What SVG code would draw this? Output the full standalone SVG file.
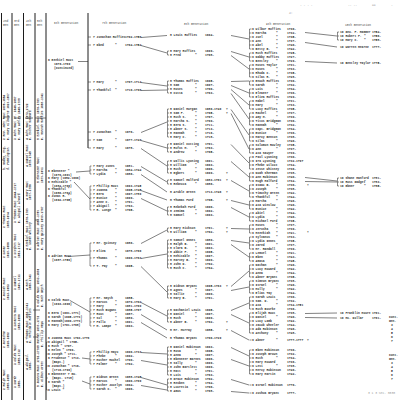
<svg xmlns="http://www.w3.org/2000/svg" width="400" height="400" viewBox="0 0 400 400">
<style>
text{font-family:"Liberation Mono","DejaVu Sans Mono",monospace;font-size:3px;font-weight:bold;fill:#303030}
.v{font-size:2.9px}
.hd{font-size:2.9px;font-weight:normal;fill:#444}
.lt{fill:#999;font-weight:normal}
.r{stroke:#1c1c1c;stroke-width:1;fill:none}
.c{stroke:#2e2e2e;stroke-width:0.6;fill:none}
.b{stroke:#2e2e2e;stroke-width:0.55;fill:none}
</style>
<rect width="400" height="400" fill="#fff"/>

<g id="rules">
<path class="r" d="M1.5 13V400M12 13V400M23.5 13V400M35 13V400M46 13V400M88 13V148"/>
<path class="c" d="M3 117h7M14 118h7M25 118h8M35 118h11M35 220h4M33 310h7M33 337h5"/>
</g>

<g id="headers">
<text class="hd" x="3" y="22">2nd</text><text class="hd" x="3" y="26">Gen</text>
<text class="hd" x="14" y="22">3rd</text><text class="hd" x="14" y="26">Gen</text>
<text class="hd" x="26" y="22">4th</text><text class="hd" x="26" y="26">Gen</text>
<text class="hd" x="37" y="22">5th</text><text class="hd" x="37" y="26">Gen</text>
<text class="hd" x="54" y="24">6th Generation</text>
<text class="hd" x="102" y="24">7th Generation</text>
<text class="hd" x="184" y="25">8th Generation</text>
<text class="hd" x="266" y="25">9th Generation</text>
<text class="hd" x="345" y="26">10th Generation</text>
</g>

<g id="gen2">
<text class="v" transform="translate(5,140) rotate(-90)">2 Rev. John Root 1608-1684<tspan x="0" dy="3.5">m. Mary Kilbourne 1619-1697</tspan></text>
<text class="v" transform="translate(5,170) rotate(-90)">b. Badby, Eng.<tspan x="0" dy="3.5">d. Farmington</tspan></text>
<text class="v" transform="translate(5,228) rotate(-90)">2 Thomas Root<tspan x="0" dy="3.5">1605-1694</tspan></text>
<text class="v" transform="translate(5,258) rotate(-90)">2 Susan<tspan x="0" dy="3.5">1610-1686</tspan></text>
<text class="v" transform="translate(5,300) rotate(-90)">2 Josiah Root<tspan x="0" dy="3.5">1613-1683</tspan></text>
<text class="v" transform="translate(5,348) rotate(-90)">2 Jonathan<tspan x="0" dy="3.5">1616-1682</tspan></text>
<text class="v" transform="translate(5,390) rotate(-90)">2 Ralph Root<tspan x="0" dy="3.5">1585-1655</tspan></text>
</g>
<g id="gen3">
<text class="v" transform="translate(16,140) rotate(-90)">3 John Root Jr. 1646-1687<tspan x="0" dy="3.5">m. Mary Ashley 1648-1705</tspan></text>
<text class="v" transform="translate(16,223) rotate(-90)">3 Thomas Root 1644-1717<tspan x="0" dy="3.5">m. Abigail Alvord</tspan></text>
<text class="v" transform="translate(16,258) rotate(-90)">3 Stephen Root<tspan x="0" dy="3.5">1651-1717</tspan></text>
<text class="v" transform="translate(16,290) rotate(-90)">3 Samuel<tspan x="0" dy="3.5">1649-1711</tspan></text>
<text class="v" transform="translate(16,330) rotate(-90)">3 Susanna Root<tspan x="0" dy="3.5">1653-1686</tspan></text>
<text class="v" transform="translate(16,365) rotate(-90)">3 Caleb Root<tspan x="0" dy="3.5">1655-1712</tspan></text>
<text class="v" transform="translate(16,388) rotate(-90)">3 Sarah<tspan x="0" dy="3.5">1658-</tspan></text>
</g>
<g id="gen4">
<text class="v" transform="translate(27.5,140) rotate(-90)">4 John Root 1673-1722<tspan x="0" dy="3.5">m. Esther Hubbard</tspan></text>
<text class="v" transform="translate(27.5,167) rotate(-90)">4 Samuel Root<tspan x="0" dy="3.5">1675-1745</tspan></text>
<text class="v" transform="translate(27.5,200) rotate(-90)">4 Mary Root<tspan x="0" dy="3.5">1677-1756</tspan></text>
<text class="v" transform="translate(27.5,250) rotate(-90)">4 Ezekiel Root 1676-1769<tspan x="0" dy="3.5">m. Sarah Whitney</tspan></text>
<text class="v" transform="translate(27.5,290) rotate(-90)">4 Ruth<tspan x="0" dy="3.5">1680-1741</tspan></text>
<text class="v" transform="translate(27.5,343) rotate(-90)">4 Thomas Root 1683-1741<tspan x="0" dy="3.5">m. Mehitable Ruffies</tspan></text>
<text class="v" transform="translate(27.5,370) rotate(-90)">4 Abigail<tspan x="0" dy="3.5">1686-</tspan></text>
</g>
<g id="gen5">
<text class="v" transform="translate(39,140) rotate(-90)">5 Ezekiel Root 1676-1769<tspan x="0" dy="3.5">m. Hannah Ruffies 1680-1741</tspan></text>
<text class="v" transform="translate(39,183) rotate(-90)">5 Ebenezer Root<tspan x="0" dy="3.5">1679-1691</tspan></text>
<text class="v" transform="translate(39,250) rotate(-90)">5 Adrian Root 1687-1759<tspan x="0" dy="3.5">m. Mary Quinsey 1690-1767</tspan></text>
<text class="v" transform="translate(39,307) rotate(-90)">5 Caleb Root 1693-1696<tspan x="0" dy="3.5">m. Ruth Smyth</tspan></text>
<text class="v" transform="translate(39,347) rotate(-90)">5 Hannah 1699-1773<tspan x="0" dy="3.5">m. Phillip Mayo</tspan></text>
<text class="v" transform="translate(39,387) rotate(-90)">5 Joanna Root 1703-1776<tspan x="0" dy="3.5">m. Gideon Green</tspan></text>
</g>

<g id="n6-ezekiel">
<text x="48" y="61">6 Ezekiel Root</text><text x="54" y="65">1676-1769</text><text x="54" y="69">(Continued)</text>
</g>
<g id="n6-ebenezer">
<text x="48" y="172">6 Ebenezer  "</text><text x="52" y="175.5">(1679-1691)</text>
<text x="48" y="179">6 Mary (1682-1696)</text>
<text x="48" y="183">6 Mehitable  "</text><text x="52" y="186.5">(1684-1760)</text>
<text x="48" y="190">6 Thankful  "</text><text x="52" y="193.5">(1686-1764)</text>
<text x="48" y="197">6 Jonas R.  "</text><text x="52" y="200.5">(1692-1765)</text>
</g>
<g id="n6-adrian">
<text x="48" y="257">6 Adrian Root</text><text x="52" y="261">(1687-1759)</text>
</g>
<g id="n6-caleb">
<text x="48" y="301">6 Caleb Root</text><text x="52" y="305">(1693-1696)</text>
<text x="48" y="314">6 Ezra  (1691-1771)</text>
<text x="48" y="318">6 Sarah (1695-1773)</text>
<text x="48" y="322">6 Hannah(1699-1773)</text>
<text x="48" y="326">6 Mary  (1701-1768)</text>
</g>
<g id="n6-joanna">
<text x="48" y="339">6 Joanna Root  1703-1776</text>
<text x="48" y="343">6 Abigail  "  1705-</text>
<text x="48" y="347">6 Ruth     "  1707-</text>
<text x="48" y="351">6 Helen    "  1709-</text>
<text x="48" y="355">6 Joseph   "  1711-</text>
<text x="48" y="359">6 Prudence "  1713-</text>
<text x="52" y="363">(Bapt.)</text>
<text x="48" y="367">6 Jonathan "  1716-</text>
<text x="52" y="371">(1716-1799)</text>
<text x="48" y="375">6 Ebenezer  7 mo.</text>
<text x="52" y="379">(Bapt. 1718)</text>
<text x="48" y="383">6 Sarah    "</text>
<text x="52" y="387">(Bapt.)</text>
<text x="48" y="391">6 Lewis    "</text>
<path class="b" d="M46.5 342V390M46.5 342h1.3M46.5 354h1.3M46.5 366h1.3M46.5 378h1.3M46.5 390h1.3"/>
</g>

<g id="n7-a">
<text x="93" y="38">7 Jonathan Ruffies<tspan x="125">1702-1756</tspan></text>
<text x="93" y="46">7 Obed<tspan x="115">"</tspan><tspan x="125">1704-1754</tspan></text>
</g>
<g id="n7-b">
<text x="93" y="83">7 Mary<tspan x="115">"</tspan><tspan x="125">1707-1714</tspan></text>
<text x="93" y="91">7 Thankful<tspan x="115">"</tspan><tspan x="125">1710-1796</tspan></text>
</g>
<g id="n7-c">
<text x="93" y="133">7 Jonathan<tspan x="115">"</tspan><tspan x="125">1676-</tspan></text>
<text x="93" y="141">7 Sam<tspan x="115">"</tspan><tspan x="125">1677-1749</tspan></text>
<text x="93" y="149">7 Mary<tspan x="115">"</tspan><tspan x="125">1678-</tspan></text>
</g>
<g id="n7-d">
<text x="93" y="167">7 Mary Jones<tspan x="125">1681-</tspan></text>
<text x="93" y="171">7 Martha<tspan x="115">"</tspan><tspan x="125">1684-1744</tspan></text>
<text x="93" y="175">7 Lydia<tspan x="115">"</tspan><tspan x="125">1686-</tspan></text>
</g>
<g id="n7-e">
<text x="93" y="187">7 Phillip Root<tspan x="125">1693-1745</tspan></text>
<text x="93" y="191">7 Joanna<tspan x="115">"</tspan><tspan x="125">1695-1745</tspan></text>
<text x="93" y="195">7 Ezra<tspan x="115">"</tspan><tspan x="125">1697-1789</tspan></text>
<text x="93" y="199">7 Eunice<tspan x="115">"</tspan><tspan x="125">1699-</tspan></text>
<text x="93" y="203">7 Anne C.<tspan x="115">"</tspan><tspan x="125">1701-</tspan></text>
<text x="93" y="207">7 Abigail<tspan x="115">"</tspan><tspan x="125">1703-</tspan></text>
<text x="93" y="211">7 R. Lunge<tspan x="115">"</tspan><tspan x="125">1705-</tspan></text>
</g>
<g id="n7-f">
<text x="93" y="244">7 Mr. Quinsey<tspan x="125">1686-</tspan></text>
<text x="93" y="252">7 Eliza<tspan x="115">"</tspan><tspan x="125">1678-1760</tspan></text>
<text x="93" y="259">7 Thomas<tspan x="115">"</tspan><tspan x="125">1690-1763</tspan></text>
<text x="93" y="267">7 T. Fay<tspan x="115">"</tspan><tspan x="125">1695-</tspan></text>
</g>
<g id="n7-g">
<text x="93" y="299">7 Mr. Smyth<tspan x="125">1685-</tspan></text>
<text x="93" y="303">7 Marcus<tspan x="115">"</tspan><tspan x="125">1679-1702</tspan></text>
<text x="93" y="307">7 Mary<tspan x="115">"</tspan><tspan x="125">1681-1709</tspan></text>
<text x="93" y="311">7 Ruth Bugant<tspan x="125">1685-1707</tspan></text>
<text x="93" y="315">7 Root<tspan x="115">"</tspan><tspan x="125">1687-</tspan></text>
<text x="93" y="319">7 Sol<tspan x="115">"</tspan><tspan x="125">1689-</tspan></text>
<text x="93" y="323">7 Fallo<tspan x="115">"</tspan><tspan x="125">1691-</tspan></text>
<text x="93" y="327">7 M. Lampe<tspan x="115">"</tspan><tspan x="125">1693-</tspan></text>
</g>
<g id="n7-h">
<text x="93" y="353">7 Phillip Mayo<tspan x="125">1690-1733</tspan></text>
<text x="93" y="357">7 Phebe<tspan x="115">"</tspan><tspan x="125">1692-</tspan></text>
<text x="93" y="361">7 Mother Mochel<tspan x="125">1700-</tspan></text>
<text x="93" y="365">7 Palmer<tspan x="115">"</tspan><tspan x="125">1702-</tspan></text>
</g>
<g id="n7-i">
<text x="93" y="378">7 Gideon Green<tspan x="125">1688-1745</tspan></text>
<text x="93" y="382">7 Marcus<tspan x="115">"</tspan><tspan x="125">1690-1709</tspan></text>
<text x="93" y="386">7 Mother Jocelyn<tspan x="125">1694-</tspan></text>
<text x="93" y="390">7 Sarah C.<tspan x="115">"</tspan><tspan x="125">1696-</tspan></text>
</g>

<g id="n8-a"><text x="170" y="36">8 Lewis Ruffies<tspan x="205">1694-</tspan></text></g>
<g id="n8-b">
<text x="170" y="52">8 Mary Ruffies<tspan x="205">1699-</tspan></text>
<text x="170" y="56">8 Fred<tspan x="195">"</tspan><tspan x="205">1708-</tspan></text>
</g>
<g id="n8-c">
<text x="170" y="82">8 Thomas Ruffies<tspan x="205">1695-</tspan></text>
<text x="170" y="86">8 Sam<tspan x="195">"</tspan><tspan x="205">1697-</tspan></text>
<text x="170" y="90">8 Moses<tspan x="195">"</tspan><tspan x="205">1700-</tspan></text>
<text x="170" y="94">8 Cotta<tspan x="195">"</tspan><tspan x="205">1703-</tspan></text>
</g>
<g id="n8-d">
<text x="170" y="110">8 Daniel Morgan<tspan x="205">1680-1740</tspan><tspan x="226">?</tspan></text>
<text x="170" y="114">8 Sam F.<tspan x="195">"</tspan><tspan x="205">1705-</tspan><tspan x="226">?</tspan></text>
<text x="170" y="118">8 Ruth S.<tspan x="195">"</tspan><tspan x="205">1707-</tspan></text>
<text x="170" y="122">8 Martha S.<tspan x="195">"</tspan><tspan x="205">1709-</tspan></text>
<text x="170" y="126">8 Ezra S.<tspan x="195">"</tspan><tspan x="205">1711-</tspan></text>
<text x="170" y="130">8 Abner S.<tspan x="195">"</tspan><tspan x="205">1713-</tspan></text>
<text x="170" y="134">8 Hannah<tspan x="195">"</tspan><tspan x="205">1716-</tspan></text>
<text x="170" y="138">8 Mary C.<tspan x="195">"</tspan><tspan x="205">1718-</tspan></text>
</g>
<g id="n8-e">
<text x="170" y="145">8 Daniel Cutting<tspan x="205">1701-</tspan></text>
<text x="170" y="149">8 Rufus M.<tspan x="195">"</tspan><tspan x="205">1703-</tspan></text>
<text x="170" y="153">8 Andrew<tspan x="195">"</tspan><tspan x="205">1705-</tspan></text>
</g>
<g id="n8-f">
<text x="170" y="162">8 Wallis Lyoning<tspan x="205">1691-</tspan></text>
<text x="170" y="166">8 William<tspan x="195">"</tspan><tspan x="205">1693-</tspan></text>
<text x="170" y="170">8 Ruth<tspan x="195">"</tspan><tspan x="205">1696-</tspan></text>
<text x="170" y="174">8 Egbert<tspan x="195">"</tspan><tspan x="205">1699-</tspan><tspan x="226">?</tspan></text>
</g>
<g id="n8-g">
<text x="170" y="181">8 Samuel Halford<tspan x="205">1683-1761</tspan><tspan x="226">?</tspan></text>
<text x="170" y="185">8 Rebecca<tspan x="195">"</tspan><tspan x="205">1686-</tspan></text>
</g>
<g id="n8-h"><text x="170" y="193">8 Aroble Green<tspan x="205">1713-1746</tspan><tspan x="226">?</tspan></text></g>
<g id="n8-i"><text x="170" y="201">8 Thomas Ford<tspan x="205">1705-</tspan><tspan x="226">?</tspan></text></g>
<g id="n8-j">
<text x="170" y="208">8 Rebekah Ford<tspan x="205">1690-</tspan></text>
<text x="170" y="212">8 Jemima<tspan x="195">"</tspan><tspan x="205">1692-</tspan></text>
<text x="170" y="216">8 Samuel<tspan x="195">"</tspan><tspan x="205">1693-</tspan></text>
</g>
<g id="n8-k">
<text x="170" y="229">8 Mary Hickson<tspan x="205">1701-</tspan><tspan x="226">?</tspan></text>
<text x="170" y="233">8 William<tspan x="195">"</tspan><tspan x="205">1702-</tspan><tspan x="226">?</tspan></text>
</g>
<g id="n8-l">
<text x="170" y="241">8 Samuel Innes<tspan x="205">1689-</tspan></text>
<text x="170" y="245">8 Ralph B.<tspan x="195">"</tspan><tspan x="205">1691-</tspan></text>
<text x="170" y="249">8 Clara B.<tspan x="195">"</tspan><tspan x="205">1693-</tspan></text>
<text x="170" y="253">8 Abbie F.<tspan x="195">"</tspan><tspan x="205">1695-</tspan></text>
<text x="170" y="257">8 Mehitable<tspan x="195">"</tspan><tspan x="205">1697-</tspan></text>
<text x="170" y="261">8 Harvey B.<tspan x="195">"</tspan><tspan x="205">1699-</tspan></text>
<text x="170" y="265">8 John D.<tspan x="195">"</tspan><tspan x="205">1702-</tspan></text>
<text x="170" y="269">8 Ruth C.<tspan x="195">"</tspan><tspan x="205">1704-</tspan></text>
</g>
<g id="n8-m">
<text x="170" y="287">8 Gideon Bryant<tspan x="205">1695-1763</tspan><tspan x="226">?</tspan></text>
<text x="170" y="291">8 Agnes<tspan x="195">"</tspan><tspan x="205">1697-</tspan></text>
<text x="170" y="295">8 Sallie<tspan x="195">"</tspan><tspan x="205">1699-</tspan></text>
<text x="170" y="299">8 Mary B.<tspan x="195">"</tspan><tspan x="205">1701-</tspan></text>
</g>
<g id="n8-n">
<text x="170" y="311">8 Nathaniel Lewis<tspan x="205">1695-</tspan></text>
<text x="170" y="315">8 Daniel<tspan x="195">"</tspan><tspan x="205">1697-</tspan></text>
<text x="170" y="319">8 Ruth<tspan x="195">"</tspan><tspan x="205">1699-</tspan></text>
<text x="170" y="323">8 Abner B.<tspan x="195">"</tspan><tspan x="205">1702-</tspan><tspan x="226">?</tspan></text>
</g>
<g id="n8-o"><text x="170" y="331">8 Mr. Murray<tspan x="205">1685-</tspan><tspan x="226">?</tspan></text></g>
<g id="n8-p"><text x="170" y="339">8 Thomas Bryant<tspan x="205">1700-1729</tspan></text></g>
<g id="n8-q">
<text x="170" y="348">8 Daniel Robinson<tspan x="205">1693-</tspan></text>
<text x="170" y="352">8 Rosa<tspan x="195">"</tspan><tspan x="205">1695-</tspan></text>
<text x="170" y="356">8 Anna<tspan x="195">"</tspan><tspan x="205">1697-</tspan></text>
<text x="170" y="360">8 Ebenezer Barnes<tspan x="205">1696-</tspan></text>
<text x="170" y="364">8 Sally<tspan x="195">"</tspan><tspan x="205">1699-</tspan></text>
<text x="170" y="368">8 John Bartlett<tspan x="205">1699-</tspan></text>
<text x="170" y="372">8 Matt<tspan x="195">"</tspan><tspan x="205">1701-</tspan></text>
<text x="170" y="376">8 Lois<tspan x="195">"</tspan><tspan x="205">1703-</tspan></text>
</g>
<g id="n8-r">
<text x="170" y="380">8 Grace Robinson<tspan x="205">1702-</tspan></text>
<text x="170" y="384">8 Reuben<tspan x="195">"</tspan><tspan x="205">1704-</tspan></text>
<text x="170" y="388">8 Lucretia<tspan x="195">"</tspan><tspan x="205">1706-</tspan></text>
<text x="170" y="392">8 Amos<tspan x="195">"</tspan><tspan x="205">1708-</tspan></text>
</g>

<g id="n9-list">
<text x="252" y="30">9 Wilbur Ruffies<tspan x="287">1730-</tspan></text>
<text x="252" y="34">9 Martha<tspan x="276">"</tspan><tspan x="287">1732-</tspan></text>
<text x="252" y="38">9 Joel<tspan x="276">"</tspan><tspan x="287">1735-</tspan></text>
<text x="252" y="42">9 Ann<tspan x="276">"</tspan><tspan x="287">1737-</tspan></text>
<text x="252" y="46">9 Abel<tspan x="276">"</tspan><tspan x="287">1740-</tspan></text>
<text x="252" y="50">9 Betty B.<tspan x="276">"</tspan><tspan x="287">1742-</tspan></text>
<text x="252" y="54">9 Ruth Ruffies<tspan x="287">1725-</tspan></text>
<text x="252" y="58">9 Nabby Ruffies<tspan x="287">1727-</tspan></text>
<text x="252" y="62">9 Bentley<tspan x="276">"</tspan><tspan x="287">1729-</tspan></text>
<text x="252" y="66">9 Moses Taylor<tspan x="287">1731-</tspan></text>
<text x="252" y="70">9 Moses<tspan x="276">"</tspan><tspan x="287">1733-</tspan></text>
<text x="252" y="74">9 Rhoda C.<tspan x="276">"</tspan><tspan x="287">1735-</tspan></text>
<text x="252" y="78">9 Silas R.<tspan x="276">"</tspan><tspan x="287">1728-</tspan></text>
<text x="252" y="82">9 Enoch Ruffies<tspan x="287">1730-</tspan></text>
<text x="252" y="86">9 Sarah<tspan x="276">"</tspan><tspan x="287">1732-</tspan></text>
<text x="252" y="90">9 Lois<tspan x="276">"</tspan><tspan x="287">1734-</tspan></text>
<text x="252" y="94">9 Eleazer<tspan x="276">"</tspan><tspan x="287">1736-</tspan></text>
<text x="252" y="98">9 Eliza Ruffies<tspan x="287">1729-</tspan></text>
<text x="252" y="102">9 Mabel<tspan x="276">"</tspan><tspan x="287">1731-</tspan></text>
<text x="252" y="106">9 Mary<tspan x="276">"</tspan><tspan x="287">1733-</tspan></text>
<text x="252" y="110">9 Lucy Ruffies<tspan x="287">1735-</tspan></text>
<text x="252" y="114">9 Rachel<tspan x="276">"</tspan><tspan x="287">1737-</tspan></text>
<text x="252" y="118">9 Amy M.<tspan x="276">"</tspan><tspan x="287">1739-</tspan></text>
<text x="252" y="122">9 Titus Bridgman<tspan x="287">1730-</tspan></text>
<text x="252" y="126">9 Hannah<tspan x="276">"</tspan><tspan x="287">1732-</tspan></text>
<text x="252" y="130">9 Capt. Bridgman<tspan x="287">1734-</tspan></text>
<text x="252" y="134">9 Eunice<tspan x="276">"</tspan><tspan x="287">1736-</tspan></text>
<text x="252" y="138">9 Marcy Benton<tspan x="287">1738-</tspan></text>
<text x="252" y="142">9 Silas<tspan x="276">"</tspan><tspan x="287">1740-</tspan></text>
<text x="252" y="146">9 Solomon Rowley<tspan x="287">1735-</tspan></text>
<text x="252" y="150">9 Ann<tspan x="276">"</tspan><tspan x="287">1737-</tspan></text>
<text x="252" y="154">9 Asa Sawyer<tspan x="287">1739-</tspan></text>
<text x="252" y="158">9 Paul Lyoning<tspan x="287">1730-</tspan></text>
<text x="252" y="162">9 Ira Lyoning<tspan x="287">1732-1797</tspan></text>
<text x="252" y="166">9 Phebe Wilcox<tspan x="287">1734-</tspan></text>
<text x="252" y="170">9 Jesse Whitney<tspan x="287">1736-</tspan></text>
<text x="252" y="174">9 Noah Sherman<tspan x="287">1738-</tspan></text>
<text x="252" y="178">9 Ann Robinson<tspan x="287">1740-</tspan></text>
<text x="252" y="182">9 Hugh Halford<tspan x="287">1734-</tspan></text>
<text x="252" y="186">9 Isaac B.<tspan x="276">"</tspan><tspan x="287">1736-</tspan></text>
<text x="252" y="190">9 Joseph<tspan x="276">"</tspan><tspan x="287">1738-</tspan></text>
<text x="252" y="194">9 Timothy Green<tspan x="287">1742-</tspan></text>
<text x="252" y="198">9 Thankful<tspan x="276">"</tspan><tspan x="287">1744-</tspan></text>
<text x="252" y="202">9 Martha<tspan x="276">"</tspan><tspan x="287">1746-</tspan></text>
<text x="252" y="206">9 Asa Winslow<tspan x="287">1740-</tspan></text>
<text x="252" y="210">9 Eunice<tspan x="276">"</tspan><tspan x="287">1742-</tspan></text>
<text x="252" y="214">9 Abiel<tspan x="276">"</tspan><tspan x="287">1744-</tspan></text>
<text x="252" y="218">9 Lydia<tspan x="276">"</tspan><tspan x="287">1746-</tspan></text>
<text x="252" y="222">9 Michael Ford<tspan x="287">1735-</tspan></text>
<text x="252" y="226">9 Moses<tspan x="276">"</tspan><tspan x="287">1737-</tspan></text>
<text x="252" y="230">9 Jerusha<tspan x="276">"</tspan><tspan x="287">1739-</tspan></text>
<text x="252" y="234">9 Hezekiah<tspan x="276">"</tspan><tspan x="287">1741-</tspan></text>
<text x="252" y="238">9 Sylvanus<tspan x="276">"</tspan><tspan x="287">1733-</tspan></text>
<text x="252" y="242">9 Lydia Innes<tspan x="287">1735-</tspan></text>
<text x="252" y="246">9 Jared<tspan x="276">"</tspan><tspan x="287">1737-</tspan></text>
<text x="252" y="250">9 Mr. Randall<tspan x="287">1739-</tspan></text>
<text x="252" y="254">9 Lemuel<tspan x="276">"</tspan><tspan x="287">1741-</tspan></text>
<text x="252" y="258">9 Eben<tspan x="276">"</tspan><tspan x="287">1743-</tspan></text>
<text x="252" y="262">9 Amasa<tspan x="276">"</tspan><tspan x="287">1745-</tspan></text>
<text x="252" y="266">9 Nathan<tspan x="276">"</tspan><tspan x="287">1740-</tspan></text>
<text x="252" y="270">9 Lucy Howard<tspan x="287">1742-</tspan></text>
<text x="252" y="274">9 Anna<tspan x="276">"</tspan><tspan x="287">1744-</tspan></text>
<text x="252" y="278">9 Abner Bryant<tspan x="287">1735-</tspan></text>
<text x="252" y="282">9 Simeon Bryant<tspan x="287">1738-</tspan></text>
<text x="252" y="286">9 Israel<tspan x="276">"</tspan><tspan x="287">1740-</tspan></text>
<text x="252" y="290">9 Molly<tspan x="276">"</tspan><tspan x="287">1742-</tspan></text>
<text x="252" y="294">9 Elias Tay<tspan x="287">1744-</tspan></text>
<text x="252" y="298">9 Sarah Lewis<tspan x="287">1730-</tspan></text>
<text x="252" y="302">9 Sam. D.<tspan x="276">"</tspan><tspan x="287">1732-</tspan></text>
<text x="252" y="306">9 Asa<tspan x="276">"</tspan><tspan x="287">1734-1751</tspan></text>
<text x="252" y="310">9 Ruth Bourke<tspan x="287">1736-</tspan></text>
<text x="252" y="314">9 Elijah Root<tspan x="287">1738-</tspan></text>
<text x="252" y="318">9 Daniel<tspan x="276">"</tspan><tspan x="287">1740-</tspan></text>
<text x="252" y="322">9 Lucy Lamb<tspan x="287">1742-</tspan></text>
<text x="252" y="326">9 Jacob Wheeler<tspan x="287">1744-</tspan></text>
<text x="252" y="330">9 Ada Robinson<tspan x="287">1746-</tspan></text>
<text x="252" y="334">9 Anthony<tspan x="276">"</tspan><tspan x="287">1748-</tspan></text>
<text x="252" y="341">9 Abner<tspan x="276">"</tspan><tspan x="287">1777-1777</tspan><tspan x="307">?</tspan></text>
<text x="252" y="351">9 Eben Robinson<tspan x="287">1730-</tspan></text>
<text x="252" y="355">9 Joseph Brown<tspan x="287">1732-</tspan></text>
<text x="252" y="359">9 Ruth<tspan x="276">"</tspan><tspan x="287">1734-</tspan></text>
<text x="252" y="363">9 Mary Howard<tspan x="287">1736-</tspan></text>
<text x="252" y="367">9 Levi<tspan x="276">"</tspan><tspan x="287">1738-</tspan></text>
<text x="252" y="371">9 Mercy Robinson<tspan x="287">1740-</tspan></text>
<text x="252" y="375">9 Mary Martin<tspan x="287">1742-</tspan></text>
<text x="252" y="386">9 Israel Robinson<tspan x="287">1770-</tspan></text>
<text x="252" y="394">9 Joshua Bryant<tspan x="287">1777-</tspan></text>
<text x="307" y="187">*</text><text x="307" y="234">*</text>
</g>

<g id="n10-a">
<text x="340" y="33">10 Geo. F. Hammer<tspan x="372">1754-</tspan></text>
<text x="340" y="37">10 Robert F.<tspan x="364">"</tspan><tspan x="372">1756-</tspan></text>
<text x="340" y="41">10 Mary C.<tspan x="364">"</tspan><tspan x="372">1758-</tspan></text>
</g>
<g id="n10-b"><text x="340" y="48">10 Warren Hearne<tspan x="372">1777-</tspan></text></g>
<g id="n10-c"><text x="340" y="64">10 Bentley Taylor<tspan x="372">1775-</tspan></text></g>
<g id="n10-d">
<text x="340" y="179">10 Shane Hanford<tspan x="372">1781-</tspan></text>
<text x="340" y="183">10 Ross Gadget<tspan x="364">"</tspan><tspan x="372">1783-</tspan></text>
<text x="340" y="187">10 Ebner<tspan x="364">"</tspan><tspan x="372">1785-</tspan></text>
</g>
<g id="n10-e">
<text x="340" y="314">10 Franklin Moore<tspan x="372">1761-</tspan></text>
<text x="340" y="319">10 Mc. Dollar<tspan x="372">1761-</tspan></text>
</g>

<g id="margin-notes">
<text class="lt" x="300" y="6">- - - -</text>
<text class="lt" x="348" y="6">-- --</text>
<text class="lt" x="372" y="6">==</text>
<text class="lt" x="391" y="6">-</text>
<text class="lt" x="289" y="14">4:</text>
<text x="389" y="318">Cont.</text><text x="389" y="322">Gen.</text><text x="391" y="326">3</text><text x="391" y="330">4</text><text x="391" y="334">5</text><text x="391" y="338">6</text><text x="391" y="342">7</text>
<text x="389" y="356">Cont.</text><text x="389" y="360">Gen.</text><text x="391" y="364">3</text><text x="391" y="368">4</text><text x="391" y="372">5</text><text x="391" y="376">6</text><text x="391" y="380">7</text>
<text class="lt" x="368" y="394">3 1 3  Sec. 3030</text>
</g>

<g id="connectors">
<path class="c" d="M78 61.5H88M76 172L90 171M74 182L90 199M68 256.5L90 255M70 300.5L90 312M82 358L90 359M82 381L90 384"/>
<path class="b" d="M88 37h3M88 45h3M88 82h3M88 90h3M88 132h3M88 140h3M88 148h3
M90 166V174M90 166h1.5M90 170h1.5M90 174h1.5
M90 186V210M90 186h1.5M90 190h1.5M90 194h1.5M90 198h1.5M90 202h1.5M90 206h1.5M90 210h1.5
M90 243V266M90 243h1.5M90 251h1.5M90 258h1.5M90 266h1.5
M90 298V326M90 298h1.5M90 302h1.5M90 306h1.5M90 310h1.5M90 314h1.5M90 318h1.5M90 322h1.5M90 326h1.5
M90 352V364M90 352h1.5M90 356h1.5M90 360h1.5M90 364h1.5
M90 377V389M90 377h1.5M90 381h1.5M90 385h1.5M90 389h1.5"/>
<path class="c" d="M141 37.5L167 35.5M141 45.5L167 53M141 82.5L167 86M141 90.5L167 90M141 132.5L167 122M141 140.5L167 148M141 148.5L167 166M141 166.5L167 182M141 174.5L167 192M141 190.5L167 200M141 198.5L167 211M141 243.5L167 230M141 258.5L167 254M141 266.5L167 292M141 302.5L167 316M141 314.5L167 330M141 322.5L167 338M141 352.5L167 354M141 360.5L167 365M141 377.5L167 385M141 385.5L167 390"/>
<path class="b" d="M167.5 51V55M167.5 51h1.5M167.5 55h1.5M167.5 81V93M167.5 81h1.5M167.5 85h1.5M167.5 89h1.5M167.5 93h1.5
M167.5 109V137M167.5 109h1.5M167.5 113h1.5M167.5 117h1.5M167.5 121h1.5M167.5 125h1.5M167.5 129h1.5M167.5 133h1.5M167.5 137h1.5
M167.5 144V152M167.5 144h1.5M167.5 148h1.5M167.5 152h1.5M167.5 161V173M167.5 161h1.5M167.5 165h1.5M167.5 169h1.5M167.5 173h1.5
M167.5 180V184M167.5 180h1.5M167.5 184h1.5M167.5 207V215M167.5 207h1.5M167.5 211h1.5M167.5 215h1.5M167.5 228V232M167.5 228h1.5M167.5 232h1.5
M167.5 240V268M167.5 240h1.5M167.5 244h1.5M167.5 248h1.5M167.5 252h1.5M167.5 256h1.5M167.5 260h1.5M167.5 264h1.5M167.5 268h1.5
M167.5 286V298M167.5 286h1.5M167.5 290h1.5M167.5 294h1.5M167.5 298h1.5M167.5 310V322M167.5 310h1.5M167.5 314h1.5M167.5 318h1.5M167.5 322h1.5
M167.5 347V375M167.5 347h1.5M167.5 351h1.5M167.5 355h1.5M167.5 359h1.5M167.5 363h1.5M167.5 367h1.5M167.5 371h1.5M167.5 375h1.5
M167.5 379V391M167.5 379h1.5M167.5 383h1.5M167.5 387h1.5M167.5 391h1.5"/>
<path class="c" d="M231 35.5L249 39M231 51.5L249 57M231 55.5L249 69M231 81.5L249 81M231 85.5L249 93M231 89.5L249 105M231 93.5L249 119M231 109.5L249 135M231 113.5L249 149M231 144.5L249 163M231 161.5L249 177M231 180.5L249 191M231 200.5L249 205M231 207.5L249 217M231 228.5L249 229M231 240.5L249 243M231 244.5L249 257M231 286.5L249 271M231 290.5L249 287M231 310.5L249 303M231 314.5L249 323M231 330.5L249 340M231 347.5L249 356M231 359.5L249 366M231 379.5L249 385M231 391.5L249 393"/>
<path class="b" d="M249.5 29V49M249.5 53V61M249.5 65V77M249.5 81V85M249.5 89V97M249.5 101V109M249.5 113V125M249.5 129V141M249.5 145V153M249.5 157V169M249.5 173V181M249.5 185V197M249.5 201V209M249.5 213V221M249.5 225V233M249.5 237V249M249.5 253V261M249.5 265V277M249.5 281V293M249.5 297V309M249.5 313V333M249.5 350V374"/>
<path class="b" d="M249.5 29h2M249.5 33h2M249.5 37h2M249.5 41h2M249.5 45h2M249.5 49h2M249.5 53h2M249.5 57h2M249.5 61h2M249.5 65h2M249.5 69h2M249.5 73h2M249.5 77h2M249.5 81h2M249.5 85h2M249.5 89h2M249.5 93h2M249.5 97h2M249.5 101h2M249.5 105h2M249.5 109h2M249.5 113h2M249.5 117h2M249.5 121h2M249.5 125h2M249.5 129h2M249.5 133h2M249.5 137h2M249.5 141h2M249.5 145h2M249.5 149h2M249.5 153h2M249.5 157h2M249.5 161h2M249.5 165h2M249.5 169h2M249.5 173h2M249.5 177h2M249.5 181h2M249.5 185h2M249.5 189h2M249.5 193h2M249.5 197h2M249.5 201h2M249.5 205h2M249.5 209h2M249.5 213h2M249.5 217h2M249.5 221h2M249.5 225h2M249.5 229h2M249.5 233h2M249.5 237h2M249.5 241h2M249.5 245h2M249.5 249h2M249.5 253h2M249.5 257h2M249.5 261h2M249.5 265h2M249.5 269h2M249.5 273h2M249.5 277h2M249.5 281h2M249.5 285h2M249.5 289h2M249.5 293h2M249.5 297h2M249.5 301h2M249.5 305h2M249.5 309h2M249.5 313h2M249.5 317h2M249.5 321h2M249.5 325h2M249.5 329h2M249.5 333h2M249.5 340h2M249.5 350h2M249.5 354h2M249.5 358h2M249.5 362h2M249.5 366h2M249.5 370h2M249.5 374h2M249.5 385h2M249.5 393h2"/>
<path class="c" d="M305 32.5L337 36M305 42.5L337 47M305 61.5L337 63M305 177.5L337 181M305 181.5L337 182M305 313.5L337 313M305 317.5L337 318"/>
<path class="b" d="M337.5 32V40M337.5 32h1.5M337.5 36h1.5M337.5 40h1.5M337.5 178V186M337.5 178h1.5M337.5 182h1.5M337.5 186h1.5"/>
</g>
</svg>
